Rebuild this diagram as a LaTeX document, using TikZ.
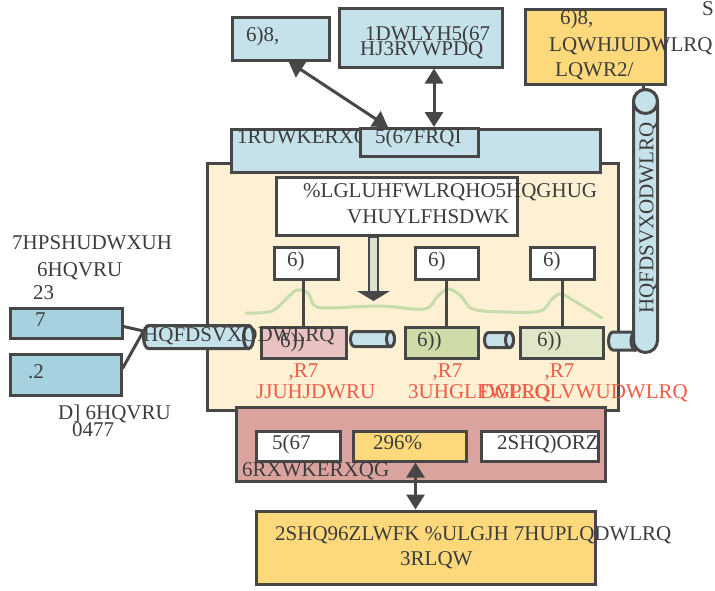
\documentclass[tikz,border=0pt]{standalone}
\usepackage{fontspec}
\setmainfont{Liberation Serif}
\usetikzlibrary{arrows.meta,positioning}

\definecolor{edgegray}{HTML}{474747}
\definecolor{inkgray}{HTML}{3C3C3C}
\definecolor{paleblue}{HTML}{C5E2EB}
\definecolor{sensorblue}{HTML}{A6D2E0}
\definecolor{sunyellow}{HTML}{FDD97C}
\definecolor{creamy}{HTML}{FEF0D2}
\definecolor{salmon}{HTML}{DBA39D}
\definecolor{sffpink}{HTML}{E9C3C1}
\definecolor{sffgreen}{HTML}{CFDBA9}
\definecolor{sffpale}{HTML}{DFE7C8}
\definecolor{wavegreen}{HTML}{C6DCAA}
\definecolor{iotred}{HTML}{F15A45}
\definecolor{arrowfill}{HTML}{DCE2CF}

\tikzset{
  box/.style={rectangle,draw=edgegray,line width=3pt,anchor=north west,inner sep=0pt},
  wh/.style 2 args={minimum width=#1pt,minimum height=#2pt},
  lbl/.style={text=inkgray,inner sep=0pt,anchor=mid west},
  iot/.style={text=iotred,inner sep=0pt,anchor=mid west},
  pipeline/.style={draw=edgegray,line width=3pt,fill=paleblue},
  conn/.style={draw=edgegray,line width=3pt},
  biarrow/.style={conn,{Triangle[length=15pt,width=18pt]}-{Triangle[length=15pt,width=18pt]}},
}

% horizontal pipe: x0, x1, centre y, radius, end radius
\newcommand{\hpipe}[5]{%
  \filldraw[pipeline] (#1+#5,#3-#4) -- (#2-#5,#3-#4)
      arc[start angle=90,end angle=-90,x radius=#5pt,y radius=#4pt] -- (#1+#5,#3+#4)
      arc[start angle=270,end angle=90,x radius=#5pt,y radius=#4pt] -- cycle;
  \draw[pipeline] (#2-#5,#3) ellipse[x radius=#5pt,y radius=#4pt];}
% vertical pipe: centre x, y0, y1, radius, end radius
\newcommand{\vpipe}[5]{%
  \filldraw[pipeline] (#1-#4,#2+#5) -- (#1-#4,#3-#5)
      arc[start angle=180,end angle=360,x radius=#4pt,y radius=#5pt] -- (#1+#4,#2+#5)
      arc[start angle=0,end angle=180,x radius=#4pt,y radius=#5pt] -- cycle;
  \draw[pipeline] (#1,#2+#5) ellipse[x radius=#4pt,y radius=#5pt];}

\begin{document}
\begin{tikzpicture}[x=1pt,y=-1pt,font=\fontsize{21}{25}\selectfont]
    \useasboundingbox (0,0) rectangle (715,590);

    % service function area
    \node (mainArea) [box,fill=creamy,wh={411}{247}] at (205.5,161.5) {};
    \node (north)    [box,fill=paleblue,wh={369}{43}] at (229.5,127.5) {};
    \node (northText) [lbl] at (237,141) {1RUWKERXQG};
    \node (restconf) [box,fill=paleblue,wh={118}{28}] at (358.5,127) {};
    \node (restconfText) [lbl] at (375,141) {5(67FRQI};

    % top boxes
    \node (sfui)   [box,fill=paleblue,wh={97}{43}] at (230.5,15.5) {};
    \node (sfuiText) [lbl] at (246,39) {6)8,};
    \node (native) [box,fill=paleblue,wh={163}{59}] at (337.5,6.5) {};
    \node (nativeTextA) [lbl] at (365,38) {1DWLYH5(67};
    \node (nativeTextB) [lbl] at (360,53) {HJ3RVWPDQ};
    \node (sfuiol) [box,fill=sunyellow,wh={140}{75}] at (523.5,7.5) {};
    \node (olTextA) [lbl] at (560,22) {6)8,};
    \node (olTextB) [lbl] at (549,49) {LQWHJUDWLRQ};
    \node (olTextC) [lbl] at (555,74) {LQWR2/};
    \node (cornerText) [lbl] at (702,13) {S};

    \draw[biarrow] ([xshift=8pt]sfui.south) -- ([xshift=-31pt]restconf.north);
    \draw[biarrow] ([xshift=15pt]restconf.north) -- ([xshift=15pt]restconf.north |- native.south);

    % rendering box and arrow
    \node (bidir) [box,fill=white,wh={241}{58}] at (274.5,175.5) {};
    \node (bidirTextA) [lbl] at (303,195) {\%LGLUHFWLRQHO5HQGHUG};
    \node (bidirTextB) [lbl] at (347,221) {VHUYLFHSDWK};
    \coordinate (blockTip) at (373.5,301);
    \draw[edgegray,line width=2pt,fill=arrowfill] (bidir.south -| 369,0) rectangle (378,293);
    \fill[edgegray] (357,291) -- (390,291) -- (blockTip) -- cycle;

    % path line
    \draw[wavegreen,line width=3pt,line cap=round] plot[smooth,tension=0.6] coordinates
        {(246,313) (272,311) (287,298) (297,290) (308,293) (314,305) (328,308) (380,306)
         (424,309) (437,297) (448,289) (461,296) (473,309) (505,312) (540,311) (552,299)
         (561,294) (576,302) (602,318)};

    % service functions
    \node (sfA) [box,fill=white,wh={64}{32}] at (272.5,245.5) {};
    \node (sfB) [box,fill=white,wh={63}{32}] at (413.5,245.5) {};
    \node (sfC) [box,fill=white,wh={64}{32}] at (528.5,245.5) {};
    \node (sfAText) [lbl] at (287,264) {6)};
    \node (sfBText) [lbl] at (428,264) {6)};
    \node (sfCText) [lbl] at (543,264) {6)};

    \node (sffA) [box,fill=sffpink,wh={85}{31}] at (259.5,325.5) {};
    \node (sffB) [box,fill=sffgreen,wh={73}{31}] at (403.5,325.5) {};
    \node (sffC) [box,fill=sffpale,wh={83}{31}] at (518.5,325.5) {};
    \node (sffAText) [lbl] at (280,345) {6))};
    \node (sffBText) [lbl] at (417,344) {6))};
    \node (sffCText) [lbl] at (537,344) {6))};

    \draw[conn] (sffA.north) -- (sffA.north |- sfA.south);
    \draw[conn] (sfB.south) -- (sfB.south |- sffB.north);
    \draw[conn] (sfC.south) -- (sfC.south |- sffC.north);

    % pipes between forwarders
    \hpipe{350.5}{394.5}{339}{7.5}{4}
    \hpipe{484.5}{513.5}{340}{7.5}{4}
    \hpipe{608.5}{640}{341}{9}{4.5}
    \vpipe{645.5}{89.5}{352.5}{12}{12}
    \node (cylVText) [text=inkgray,inner sep=0pt,rotate=90] at (648,218) {HQFDSVXODWLRQ};
    \coordinate (cylVTop) at (643,89.5);
    \draw[conn] (cylVTop) -- (cylVTop |- sfuiol.south);

    \node (iotA) [iot,anchor=north,below=4pt of sffA] {,R7};
    \node (iotB) [iot,anchor=north,below=4pt of sffB,xshift=6pt] {,R7};
    \node (iotC) [iot,anchor=north,below=4pt of sffC,xshift=-2pt] {,R7};
    \node (aggText)  [iot] at (256,396) {JJUHJDWRU};
    \node (predText) [iot] at (408,396) {3UHGLFWLRQ};
    \node (admText)  [iot,anchor=mid east] at (688,396) {DGPLQLVWUDWLRQ};

    % sensors
    \node (tempTextA) [lbl] at (12,247) {7HPSHUDWXUH};
    \node (tempTextB) [lbl] at (37,274) {6HQVRU};
    \node (tempTextC) [lbl] at (33,297) {23};
    \node (tbox)  [box,fill=sensorblue,wh={112}{30}] at (8.5,306.5) {};
    \node (koBox) [box,fill=sensorblue,wh={111}{41}] at (8.5,352.5) {};
    \node (tText)  [lbl] at (35,324) {7};
    \node (koText) [lbl] at (28,376) {.2};
    \node (mqttTextA) [lbl] at (58,417) {D] 6HQVRU};
    \node (mqttTextB) [lbl] at (72,434) {0477};

    \hpipe{143.5}{253.5}{337}{11.5}{5}
    \coordinate (cylInEnd) at (143.5,331);
    \draw[conn] ([yshift=-3.5pt]tbox.east) -- (cylInEnd);
    \draw[conn] ([yshift=6pt]koBox.east) -- (cylInEnd);
    \node (pipeText) [lbl] at (143,339) {HQFDSVXODWLRQ};

    % southbound
    \node (south)    [box,fill=salmon,wh={369}{74}] at (234.5,405.5) {};
    \node (restS)    [box,fill=white,wh={84}{30}] at (254.5,429.5) {};
    \node (ovsdb)    [box,fill=sunyellow,wh={113}{30}] at (351.5,429.5) {};
    \node (openflow) [box,fill=white,wh={117}{30}] at (479.5,429.5) {};
    \node (restSText)    [lbl] at (272,447) {5(67};
    \node (ovsdbText)    [lbl] at (373,447) {296\%};
    \node (openflowText) [lbl] at (497,447) {2SHQ)ORZ};
    \node (southText)    [lbl] at (242,474) {6RXWKERXQG};

    \node (ovsBox) [box,fill=sunyellow,wh={339}{73}] at (254.5,509.5) {};
    \node (ovsTextA) [lbl] at (275,538) {2SHQ96ZLWFK \%ULGJH 7HUPLQDWLRQ};
    \node (ovsTextB) [lbl] at (400,563) {3RLQW};
    \draw[biarrow] ([xshift=6pt]ovsdb.south) -- ([xshift=6pt]ovsdb.south |- ovsBox.north);
\end{tikzpicture}
\end{document}
